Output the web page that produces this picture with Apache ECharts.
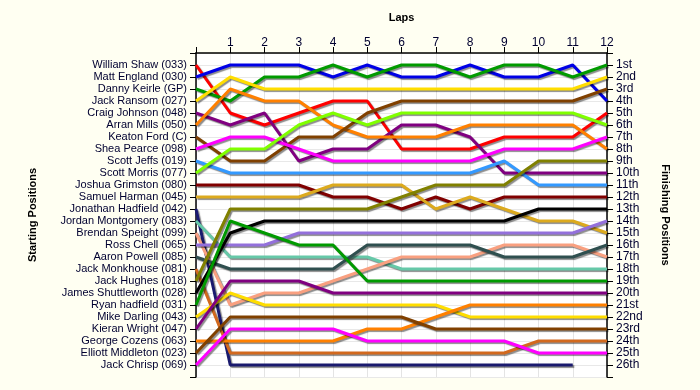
<!DOCTYPE html>
<html>
<head>
<meta charset="utf-8">
<script src="https://cdn.jsdelivr.net/npm/echarts@6/dist/echarts.min.js"></script>
<style>html,body{margin:0;padding:0;background:#fffff2;}#c{width:700px;height:390px;}</style>
</head>
<body>
<div id="c"></div>
<script>
const laps = [0,1,2,3,4,5,6,7,8,9,10,11,12];
const drivers = ["William Shaw (033)","Matt England (030)","Danny Keirle (GP)","Jack Ransom (027)","Craig Johnson (048)","Arran Mills (050)","Keaton Ford (C)","Shea Pearce (098)","Scott Jeffs (019)","Scott Morris (077)","Joshua Grimston (080)","Samuel Harman (045)","Jonathan Hadfield (042)","Jordan Montgomery (083)","Brendan Speight (099)","Ross Chell (065)","Aaron Powell (085)","Jack Monkhouse (081)","Jack Hughes (018)","James Shuttleworth (028)","Ryan hadfield (031)","Mike Darling (043)","Kieran Wright (047)","George Cozens (063)","Elliott Middleton (023)","Jack Chrisp (069)"];
const finishLabels = ["1st","2nd","3rd","4th","5th","6th","7th","8th","9th","10th","11th","12th","13th","14th","15th","16th","17th","18th","19th","20th","21st","22nd","23rd","24th","25th","26th"];
// position of each driver after each lap (lap 0 = start)
const positions = [
  [1,5,6,5,4,4,8,8,8,7,7,7,5],
  [2,1,1,1,2,1,2,2,1,2,2,1,4],
  [3,4,2,2,1,2,1,1,2,1,1,2,1],
  [4,2,3,3,3,3,3,3,3,3,3,3,2],
  [5,6,5,9,8,8,6,6,7,10,10,10,10],
  [6,3,4,4,6,7,7,7,6,6,6,6,8],
  [7,9,9,7,7,5,4,4,4,4,4,4,3],
  [8,7,7,8,9,9,9,9,9,8,8,8,7],
  [9,10,10,10,10,10,10,10,10,9,11,11,11],
  [10,8,8,6,5,6,5,5,5,5,5,5,6],
  [11,11,11,11,12,12,13,12,13,12,12,12,12],
  [12,12,12,12,11,11,11,13,12,13,14,14,15],
  [13,26,26,26,26,26,26,26,26,26,26,26,null],
  [14,17,17,17,17,17,18,18,18,18,18,18,18],
  [15,21,20,20,19,18,17,17,17,16,16,16,17],
  [16,16,16,15,15,15,15,15,15,15,15,15,14],
  [17,18,18,18,18,16,16,16,16,17,17,17,16],
  [18,25,25,25,25,25,25,25,25,25,24,24,24],
  [19,13,13,13,13,13,12,11,11,11,9,9,9],
  [20,15,14,14,14,14,14,14,14,14,13,13,13],
  [21,14,15,16,16,19,19,19,19,19,19,19,19],
  [22,20,21,21,21,21,21,21,22,22,22,22,22],
  [23,19,19,19,20,20,20,20,20,20,20,20,20],
  [24,24,24,24,24,23,23,22,21,21,21,21,21],
  [25,22,22,22,22,22,22,23,23,23,23,23,23],
  [26,23,23,23,23,24,24,24,24,24,25,25,25]
];
const palette = ["#ff0000","#0000e6","#009a00","#ffdd00","#800080","#ff8000","#804000","#ff00ff","#3399ff","#80ff00","#800000","#dcaa1e","#1a1a6e","#66c8a8","#f9a080","#9370db","#2f4f4f","#d2691e","#808000","#000000","#009a00","#ffdd00","#800080","#ff8000","#804000","#ff00ff"];

const chart = echarts.init(document.getElementById('c'), null, {renderer:'canvas'});
const txt = {color:'#000030', fontFamily:'Liberation Sans, Arial, sans-serif', fontSize:11};
const series = drivers.map((d,i)=>({
  name:d, type:'line', yAxisIndex:0, symbol:'none', animation:false,
  data: laps.map((l,k)=>positions[i][k]==null?null:[l,positions[i][k]]),
  connectNulls:false,
  lineStyle:{color:palette[i], width:3, shadowColor:'rgba(0,0,0,0.45)', shadowBlur:1, shadowOffsetX:1.5, shadowOffsetY:1.5},
  itemStyle:{color:palette[i]}
}));
const yCommon = {type:'value', min:0, max:27, interval:1, inverse:true,
  axisLine:{show:true, lineStyle:{color:'#000', width:1.5}},
  axisTick:{show:true, length:6, lineStyle:{color:'#000'}},
  nameLocation:'middle',
  nameTextStyle:{fontFamily:'Liberation Sans, Arial, sans-serif', fontSize:11, fontWeight:'bold', color:'#000'}};
chart.setOption({
  backgroundColor:'#fffff2',
  animation:false,
  grid:{left:196, right:93, top:53, bottom:13, show:true, backgroundColor:'#ffffff', borderWidth:0},
  xAxis:{type:'value', position:'top', min:0, max:12, interval:1,
    name:'Laps', nameLocation:'middle', nameGap:30,
    nameTextStyle:{fontFamily:'Liberation Sans, Arial, sans-serif', fontSize:11, fontWeight:'bold', color:'#000'},
    axisLine:{show:true, lineStyle:{color:'#000', width:1.5}},
    axisTick:{show:true, length:6, lineStyle:{color:'#000'}},
    axisLabel:Object.assign({}, txt, {fontSize:12, margin:4, formatter:v=>v===0?'':String(v)}),
    splitLine:{show:true, lineStyle:{color:'#e4e4e4', width:1}}},
  yAxis:[
    Object.assign({}, yCommon, {position:'left', name:'Starting Positions', nameGap:158, nameRotate:90,
      axisLabel:Object.assign({}, txt, {margin:9, formatter:v=>(v>=1&&v<=26)?drivers[v-1]:''}),
      splitLine:{show:true, lineStyle:{color:'#e8e8e8', width:1}}}),
    Object.assign({}, yCommon, {position:'right', name:'Finishing Positions', nameGap:53, nameRotate:-90,
      axisLabel:Object.assign({}, txt, {fontSize:12, margin:9, formatter:v=>(v>=1&&v<=26)?finishLabels[v-1]:''}),
      splitLine:{show:false}})
  ],
  series:series
});
</script>
</body>
</html>
